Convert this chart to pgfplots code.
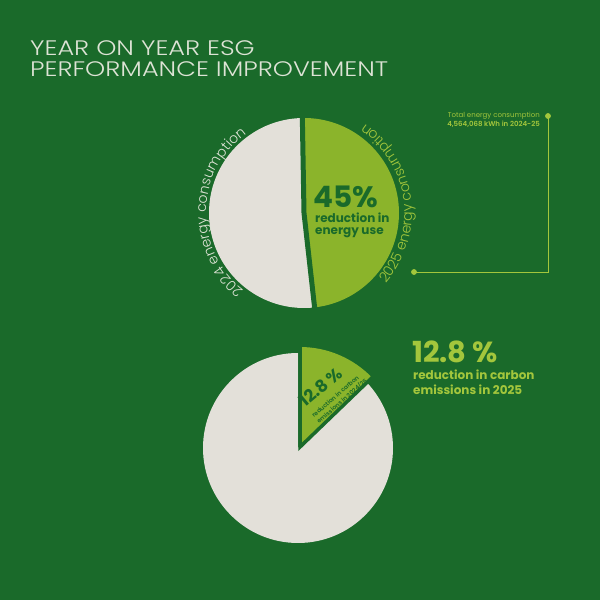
\documentclass[border=0pt]{standalone}
\usepackage{fontspec}
\usepackage{pgfplots}
\pgfplotsset{compat=1.18}
\usetikzlibrary{decorations.text}
\setmainfont{Poppins}
\IfFontExistsTF{Poppins Light}{\newfontfamily\poplight{Poppins Light}}{\newfontfamily\poplight{Poppins}}
\IfFontExistsTF{Poppins Bold}{\newfontfamily\popb{Poppins Bold}}{\newfontfamily\popb{Poppins}[FakeBold=2]}
\IfFontExistsTF{Poppins SemiBold}{\newfontfamily\popsb{Poppins SemiBold}}{\let\popsb\popb}
\newfontfamily\pop{Poppins}

\definecolor{bg}{HTML}{1A6A2A}
\definecolor{pgray}{HTML}{E3E0D9}
\definecolor{pgreen}{HTML}{8BB42B}
\definecolor{lgreen}{HTML}{A3C63C}
\definecolor{titlec}{HTML}{DDE3D5}

% data (percent)
\def\topgray{51.5}
\def\topgreen{48.5}
\def\botgray{87.2}
\def\botgreen{12.8}

\begin{document}
\begin{tikzpicture}
\begin{axis}[x=1pt, y=1pt, xmin=0, xmax=600, ymin=0, ymax=600,
  hide axis, disabledatascaling, clip=false]
\fill[bg] (axis cs:0,0) rectangle (axis cs:600,600);

% ---------- top pie ----------
\pgfmathsetmacro\tA{91}
\pgfmathsetmacro\tB{91+3.6*\topgray}
\pgfmathsetmacro\tC{\tA+360}
\fill[pgray] (axis cs:304,387) -- ++(\tA:95) arc[start angle=\tA, end angle=\tB, radius=95] -- cycle;
\fill[pgreen] (axis cs:304,387) -- ++(\tB:95) arc[start angle=\tB, end angle=\tC, radius=95] -- cycle;
\draw[bg, line width=5pt] (axis cs:304,387) ++(\tA:98) -- (axis cs:304,387) -- ++(\tB:98);

% ---------- bottom pie ----------
\pgfmathsetmacro\bB{90-3.6*\botgreen}
\pgfmathsetmacro\bC{\bB+360}
\fill[pgray] (axis cs:298,152) -- ++(90:95) arc[start angle=90, end angle=\bC, radius=95] -- cycle;
\fill[pgreen] (axis cs:300,153) -- ++(\bB:100) arc[start angle=\bB, end angle=90, radius=100] -- cycle;
\draw[bg, line width=3.5pt] (axis cs:300,153) ++(90:103) -- (axis cs:300,153) -- ++(\bB:103);

% ---------- annotation line ----------
\addplot[lgreen, line width=0.9pt, mark=*, mark size=2.4pt, mark indices={1,3},
  mark options={solid, fill=lgreen, draw=lgreen}] coordinates {(548,484) (548,328) (414,328)};

% ---------- title ----------
\node[anchor=base west, inner sep=0, text=titlec, font=\poplight\fontsize{21}{22}\selectfont] at (axis cs:30,544) {\scalebox{1.22}[1]{YEAR ON YEAR ESG}};
\node[anchor=base west, inner sep=0, text=titlec, font=\poplight\fontsize{21}{22}\selectfont] at (axis cs:30,523) {\scalebox{1.22}[1]{PERFORMANCE IMPROVEMENT}};

% ---------- arc labels ----------
\path[decorate, decoration={text along path, text align=center, text color=titlec,
  text={|\poplight\fontsize{14}{14}\selectfont|2024 energy consumption}}]
  (axis cs:304,387) ++(236:98) arc[start angle=236, end angle=122, radius=98];
\path[decorate, decoration={text along path, text align=center, text color=lgreen,
  text={|\poplight\fontsize{14}{14}\selectfont|2025 energy consumption}}]
  (axis cs:304,387) ++(-47:108) arc[start angle=-47, end angle=62, radius=108];

% ---------- top pie text ----------
\node[anchor=base west, inner sep=0, text=bg, font=\popb\fontsize{29.5}{30}\selectfont] at (axis cs:313,392) {45\%};
\node[anchor=base west, inner sep=0, text=bg, font=\popb\fontsize{12}{12}\selectfont] at (axis cs:315,377) {reduction in};
\node[anchor=base west, inner sep=0, text=bg, font=\popb\fontsize{12}{12}\selectfont] at (axis cs:315,365) {energy use};

% ---------- annotation text ----------
\node[anchor=base east, inner sep=0, text=lgreen, font=\pop\fontsize{7}{7}\selectfont] at (axis cs:540,482.5) {Total energy consumption};
\node[anchor=base east, inner sep=0, text=lgreen, font=\popsb\fontsize{7}{7}\selectfont] at (axis cs:540,473) {4,564,068 kWh in 2024-25};

% ---------- right text bottom ----------
\node[anchor=base west, inner sep=0, text=lgreen, font=\popb\fontsize{29}{29}\selectfont] at (axis cs:412,237) {12.8 \%};
\node[anchor=base west, inner sep=0, text=lgreen, font=\popb\fontsize{12}{12}\selectfont] at (axis cs:413,220) {reduction in carbon};
\node[anchor=base west, inner sep=0, text=lgreen, font=\popb\fontsize{12}{12}\selectfont] at (axis cs:413,205) {emissions in 2025};

% ---------- wedge text ----------
\node[rotate=40, anchor=base west, inner sep=0, text=bg, font=\popb\fontsize{17}{17}\selectfont] at (axis cs:305,192) {12.8 \%};
\node[rotate=41, anchor=base west, inner sep=0, text=bg, font=\popsb\fontsize{6}{6}\selectfont] at (axis cs:314,182) {reduction in carbon};
\node[rotate=41, anchor=base west, inner sep=0, text=bg, font=\popsb\fontsize{6}{6}\selectfont] at (axis cs:319,176) {emissions in 2024/25};
\end{axis}
\end{tikzpicture}
\end{document}
